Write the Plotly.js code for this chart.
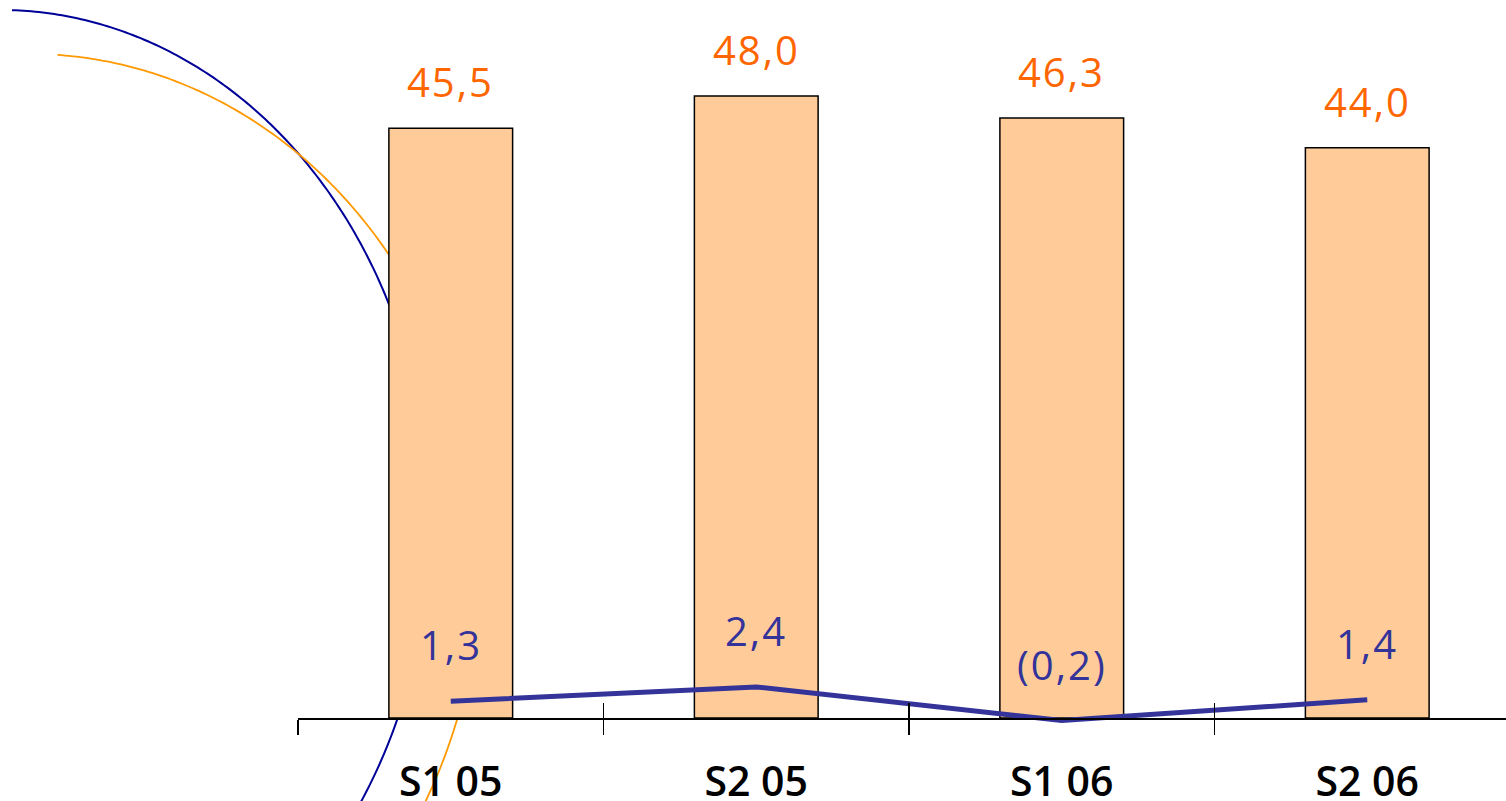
<!DOCTYPE html>
<html>
<head>
<meta charset="utf-8">
<script src="https://cdn.plot.ly/plotly-3.0.1.min.js"></script>
<style>
html,body{margin:0;padding:0;background:#fff;}
#chart{width:1506px;height:801px;}
#chart .annotation-text{letter-spacing:2px;}
</style>
</head>
<body>
<div id="chart"></div>
<script>
// ---- data ----
const categories = ['S1 05', 'S2 05', 'S1 06', 'S2 06'];
const barValues = [45.5, 48.0, 46.3, 44.0];
const lineValues = [1.3, 2.4, -0.2, 1.4];

// ---- styling ----
const W = 1506, H = 801;
const M = {l: 298, r: 0, t: 0, b: 61};
const plotW = W - M.l - M.r, plotH = H - M.t - M.b;
const FONT = 'Open Sans, Roboto, Liberation Sans, sans-serif';
const ORANGE_TXT = '#FF6600';
const BLUE = '#333399';

function fmt(v) {
  const s = Math.abs(v).toFixed(1).replace('.', ',');
  return v < 0 ? '(' + s + ')' : s;
}

// decorative elliptical arcs (page pixels -> paper coordinates)
function toPaper(x, y) { return [(x - M.l) / plotW, (H - M.b - y) / plotH]; }
function ellipsePath(cx, cy, a, b, t0, t1) {
  let d = '';
  const n = 240;
  for (let i = 0; i <= n; i++) {
    const t = (t0 + (t1 - t0) * i / n) * Math.PI / 180;
    const p = toPaper(cx + a * Math.cos(t), cy - b * Math.sin(t));
    d += (i === 0 ? 'M' : 'L') + p[0].toFixed(5) + ',' + p[1].toFixed(5);
  }
  return d;
}
const blueArcPath = ellipsePath(0, 523, 430, 513, 88.4, -35);
const orangeArcPath = ellipsePath(30, 560, 450, 506, 86.5, -31);

const zeroPos = (plotH - (718 - M.t)) / plotH;
const pxPerUnit = 12.96;
const yMin = -(plotH - 718) / pxPerUnit;
const yMax = 718 / pxPerUnit;
const xRange = [-0.5, -0.5 + plotW / 305.5];

const traces = [
  {
    type: 'bar', x: categories, y: barValues, xaxis: 'x', yaxis: 'y',
    width: 0.405,
    marker: {color: '#FFCC99', line: {color: '#000000', width: 1.5}},
    hoverinfo: 'skip'
  },
  {
    type: 'scatter', mode: 'lines', x: categories, y: lineValues, xaxis: 'x2', yaxis: 'y',
    line: {color: BLUE, width: 5},
    cliponaxis: false, hoverinfo: 'skip'
  }
];

const annotations = [];
categories.forEach((c, i) => {
  annotations.push({
    x: c, y: barValues[i], xref: 'x', yref: 'y', text: fmt(barValues[i]),
    showarrow: false, yanchor: 'bottom', yshift: 17,
    font: {family: FONT, size: 40, color: ORANGE_TXT, weight: 500}
  });
  annotations.push({
    x: c, y: lineValues[i], xref: 'x', yref: 'y', text: fmt(lineValues[i]),
    showarrow: false, yanchor: 'bottom', yshift: 27,
    font: {family: FONT, size: 40, color: BLUE, weight: 500}
  });
});

const layout = {
  width: W, height: H,
  margin: M,
  paper_bgcolor: '#ffffff',
  plot_bgcolor: 'rgba(0,0,0,0)',
  showlegend: false,
  xaxis: {
    type: 'category', categoryarray: categories, range: xRange,
    anchor: 'free', position: zeroPos,
    showline: true, linecolor: '#000000', linewidth: 1.5,
    ticks: 'outside', ticklen: 15, tickwidth: 1.5, tickcolor: '#000000',
    tickson: 'boundaries', showgrid: false, zeroline: false,
    tickfont: {family: FONT, size: 41, color: '#000000', weight: 600},
    ticklabelstandoff: 27,
    fixedrange: true
  },
  xaxis2: {
    type: 'category', categoryarray: categories, range: xRange,
    overlaying: 'x', anchor: 'free', position: zeroPos,
    showline: false, ticks: 'inside', ticklen: 15, tickwidth: 1.5, tickcolor: '#000000',
    tickson: 'boundaries', showgrid: false, zeroline: false, showticklabels: false,
    fixedrange: true
  },
  yaxis: {
    range: [yMin, yMax], visible: false, showgrid: false, zeroline: false, fixedrange: true
  },
  shapes: [
    {type: 'path', xref: 'paper', yref: 'paper', layer: 'below', path: blueArcPath,
     line: {color: '#000099', width: 2}},
    {type: 'path', xref: 'paper', yref: 'paper', layer: 'below', path: orangeArcPath,
     line: {color: '#FF9900', width: 1.8}}
  ],
  annotations: annotations
};

Plotly.newPlot('chart', traces, layout, {displayModeBar: false, staticPlot: true});
</script>
</body>
</html>
